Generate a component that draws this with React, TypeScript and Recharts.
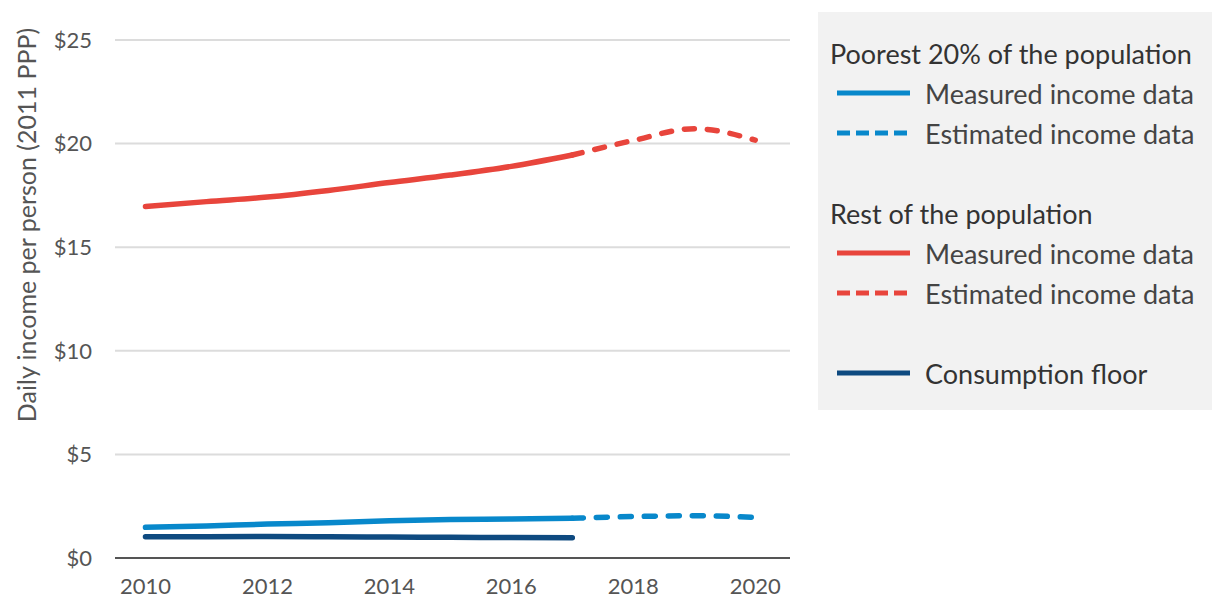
import {
  CartesianGrid,
  Line,
  LineChart,
  XAxis,
  YAxis,
} from "recharts";

const years = [2010, 2011, 2012, 2013, 2014, 2015, 2016, 2017, 2018, 2019, 2020];
const poorestMeasured = [1.48, 1.54, 1.64, 1.7, 1.8, 1.86, 1.88, 1.92, null, null, null];
const poorestEstimated = [null, null, null, null, null, null, null, 1.92, 2.0, 2.04, 1.96];
const restMeasured = [16.96, 17.2, 17.42, 17.74, 18.12, 18.48, 18.9, 19.45, null, null, null];
const restEstimated = [null, null, null, null, null, null, null, 19.45, 20.15, 20.72, 20.17];
const consumptionFloor = [1.03, 1.03, 1.04, 1.02, 1.01, 1.0, 0.99, 0.98, null, null, null];

const xTicks = [2010, 2012, 2014, 2016, 2018, 2020];
const yTicks = [0, 5, 10, 15, 20, 25];

const BLUE = "#0888cb";
const RED = "#e8453c";
const NAVY = "#0e4a80";
const FONT = "Lato, 'Open Sans', sans-serif";

const data = years.map((year, i) => ({
  year,
  poorestMeasured: poorestMeasured[i],
  poorestEstimated: poorestEstimated[i],
  restMeasured: restMeasured[i],
  restEstimated: restEstimated[i],
  floor: consumptionFloor[i],
}));

type Row =
  | { kind: "heading"; text: string }
  | { kind: "item"; text: string; color: string; dashed?: boolean; strong?: boolean }
  | { kind: "blank" };

const legendRows: Row[] = [
  { kind: "heading", text: "Poorest 20% of the population" },
  { kind: "item", text: "Measured income data", color: BLUE },
  { kind: "item", text: "Estimated income data", color: BLUE, dashed: true },
  { kind: "blank" },
  { kind: "heading", text: "Rest of the population" },
  { kind: "item", text: "Measured income data", color: RED },
  { kind: "item", text: "Estimated income data", color: RED, dashed: true },
  { kind: "blank" },
  { kind: "item", text: "Consumption floor", color: NAVY, strong: true },
];

function ChartLegend() {
  return (
    <div
      style={{
        position: "absolute",
        left: 818,
        top: 12,
        width: 394,
        height: 398,
        background: "#f2f2f2",
        paddingTop: 21,
        boxSizing: "border-box",
        fontFamily: FONT,
      }}
    >
      {legendRows.map((row, i) => (
        <div key={i} style={{ height: 40, display: "flex", alignItems: "center" }}>
          {row.kind === "heading" && (
            <span style={{ marginLeft: 12, fontSize: 27, color: "#333" }}>{row.text}</span>
          )}
          {row.kind === "item" && (
            <>
              <svg width={73} height={8} style={{ marginLeft: 19 }}>
                <line
                  x1={0}
                  x2={73}
                  y1={4}
                  y2={4}
                  stroke={row.color}
                  strokeWidth={5}
                  strokeDasharray={row.dashed ? "13 6" : undefined}
                />
              </svg>
              <span
                style={{
                  marginLeft: 15,
                  fontSize: 27,
                  color: row.strong ? "#333" : "#444",
                }}
              >
                {row.text}
              </span>
            </>
          )}
        </div>
      ))}
    </div>
  );
}

export default function App() {
  const lineProps = {
    type: "monotone" as const,
    dot: false,
    activeDot: false,
    strokeWidth: 5.5,
    strokeLinecap: "round" as const,
    isAnimationActive: false,
    connectNulls: false,
  };
  return (
    <div style={{ position: "absolute", left: 0, top: 0, width: 1212, height: 601, background: "#fff" }}>
      <LineChart
        width={800}
        height={601}
        data={data}
        margin={{ top: 40, right: 10, left: 0, bottom: 13 }}
        style={{ fontFamily: FONT }}
      >
        <CartesianGrid vertical={false} stroke="#dcdcdc" strokeWidth={2} />
        <XAxis
          dataKey="year"
          type="number"
          domain={[2009.5, 2020.57]}
          ticks={xTicks}
          tickLine={false}
          axisLine={{ stroke: "#555", strokeWidth: 2 }}
          tick={{ fill: "#555", fontSize: 22 }}
          tickMargin={14}
          height={30}
        />
        <YAxis
          domain={[0, 25]}
          ticks={yTicks}
          tickFormatter={(v: number) => `$${v}`}
          axisLine={false}
          tickLine={false}
          tickMargin={17}
          width={115}
          tick={{ fill: "#555", fontSize: 22 }}
          label={{
            content: () => (
              <text
                x={26}
                y={225}
                transform="rotate(-90 26 225)"
                textAnchor="middle"
                dominantBaseline="central"
                fill="#555"
                fontSize={25}
                fontFamily={FONT}
              >
                Daily income per person (2011 PPP)
              </text>
            ),
          }}
        />
        <Line {...lineProps} dataKey="floor" stroke={NAVY} />
        <Line {...lineProps} dataKey="poorestMeasured" stroke={BLUE} />
        <Line {...lineProps} dataKey="poorestEstimated" stroke={BLUE} strokeDasharray="11 13" />
        <Line {...lineProps} dataKey="restMeasured" stroke={RED} />
        <Line {...lineProps} dataKey="restEstimated" stroke={RED} strokeDasharray="10 13" />
      </LineChart>
      <ChartLegend />
    </div>
  );
}
